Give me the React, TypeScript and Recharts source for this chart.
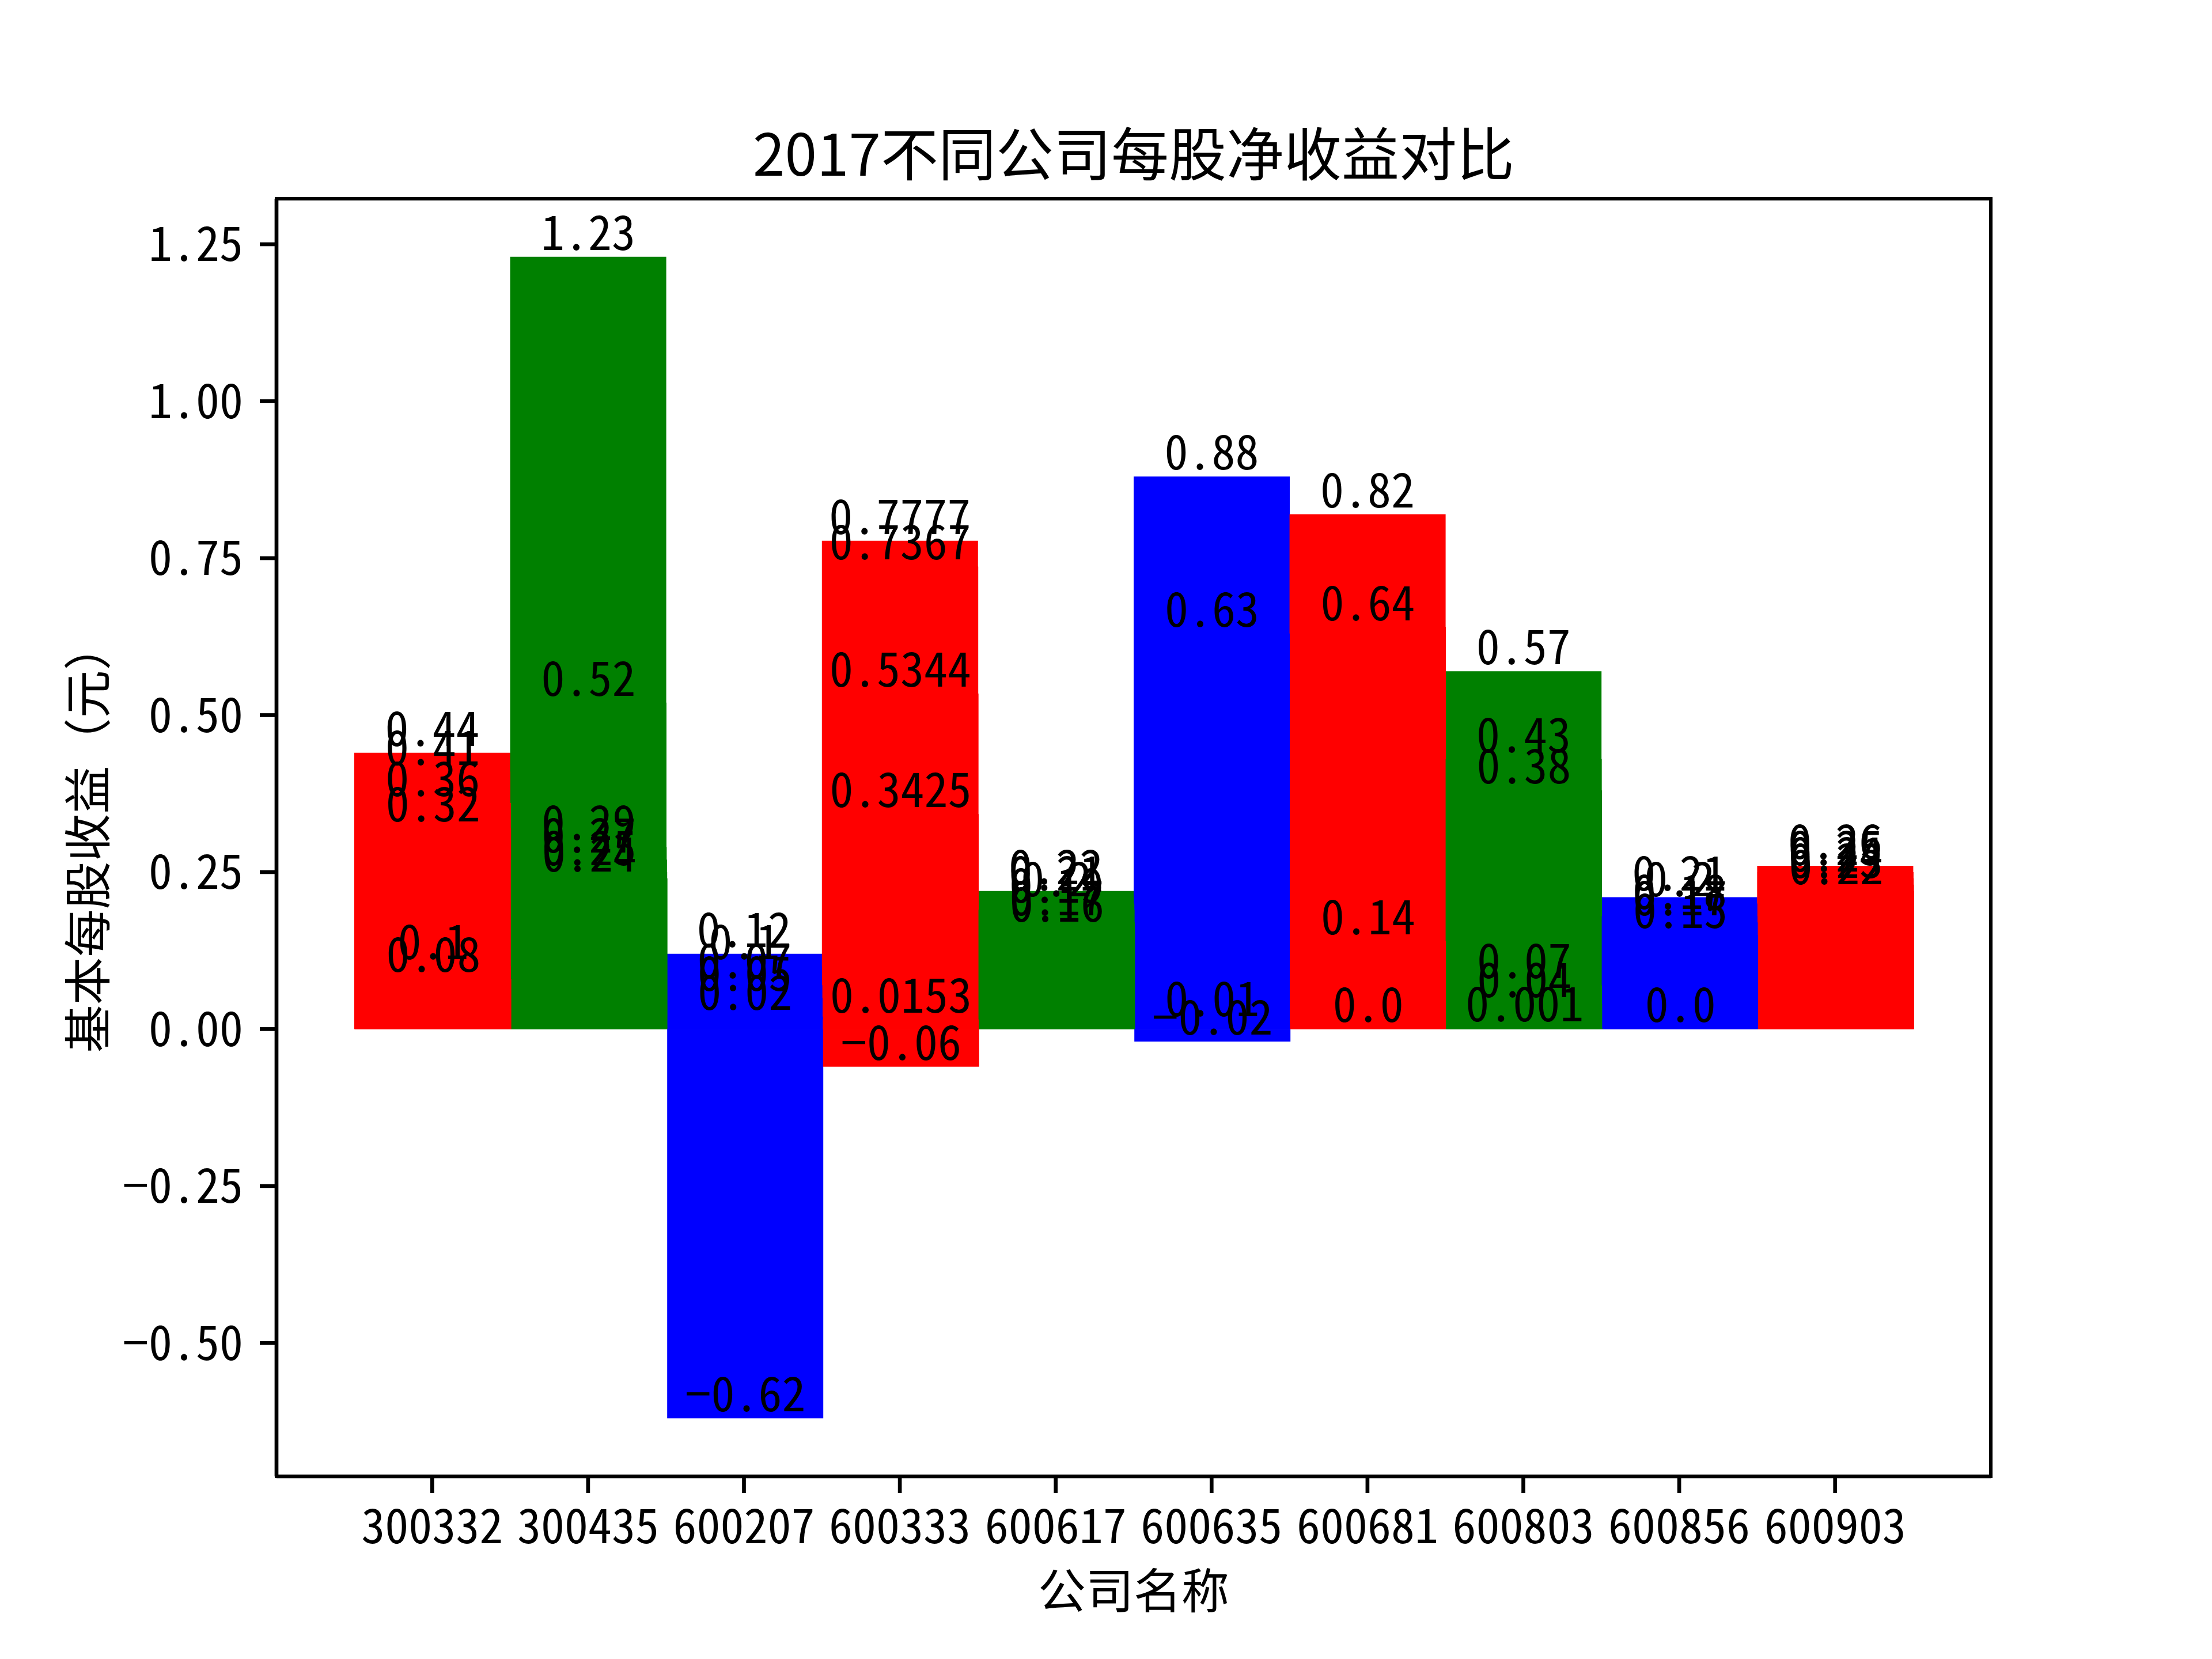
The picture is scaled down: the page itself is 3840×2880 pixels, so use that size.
import { BarChart, Bar, XAxis, YAxis, Cell, LabelList } from "recharts";

const companies = ["300332", "300435", "600207", "600333", "600617", "600635", "600681", "600803", "600856", "600903"];
const barColors = ["#ff0000", "#008000", "#0000ff", "#ff0000", "#008000", "#0000ff", "#ff0000", "#008000", "#0000ff", "#ff0000"];

// one array per reporting period
const eps1 = [0.44, 1.23, 0.12, 0.7777, 0.22, 0.88, 0.82, 0.57, 0.21, 0.26];
const eps2 = [0.41, 0.52, 0.1, 0.7367, 0.21, 0.63, 0.64, 0.43, 0.2, 0.25];
const eps3 = [0.36, 0.29, 0.07, 0.5344, 0.2, 0.01, 0.14, 0.38, 0.18, 0.24];
const eps4 = [0.32, 0.27, 0.05, 0.3425, 0.19, -0.02, 0.0, 0.07, 0.17, 0.23];
const eps5 = [0.1, 0.25, 0.02, 0.0153, 0.17, null, null, 0.04, 0.15, 0.22];
const eps6 = [0.08, 0.24, -0.62, -0.06, 0.16, null, null, 0.001, 0.0, null];

const yTicks = [-0.5, -0.25, 0, 0.25, 0.5, 0.75, 1.0, 1.25];

const series = [eps1, eps2, eps3, eps4, eps5, eps6];
const keys = series.map((_, i) => `eps${i + 1}`);

const data = companies.map((name, i) => {
  const row: Record<string, string | number | null> = { name };
  series.forEach((s, j) => {
    row[keys[j]] = s[i];
  });
  return row;
});

const numFont = "'Noto Sans Mono CJK SC', 'Noto Sans CJK SC', 'DejaVu Sans Mono', monospace";
const cjkFont = "'Noto Sans CJK SC', sans-serif";
const LW = 6.67;

// plot box (matplotlib default subplot params on a 3840x2880 canvas)
const PLOT = { left: 480, top: 345, right: 3456, bottom: 2563 };

const minus = (s: string) => s.replace("-", "\u2212");

function fmtValue(v: number) {
  if (v === 0) return "0.0";
  return minus(String(v));
}

function EpsLabel(props: any) {
  const { x, y, width, height, value } = props;
  if (value === null || value === undefined) return null;
  const top = Math.min(y, y + height);
  const bottom = Math.max(y, y + height);
  const py = value >= 0 ? top : bottom;
  return (
    <text
      x={x + width / 2}
      y={py - 12}
      textAnchor="middle"
      fontSize={82}
      fontFamily={numFont}
      fill="#000"
    >
      {fmtValue(Number(value))}
    </text>
  );
}

const textStyle = {
  position: "absolute" as const,
  lineHeight: 1,
  fontFamily: cjkFont,
  whiteSpace: "nowrap" as const,
};

export default function App() {
  return (
    <div style={{ position: "absolute", left: 0, top: 0, width: 3840, height: 2880, background: "#fff" }}>
      <div style={{ ...textStyle, left: 1968, top: 212, transform: "translateX(-50%)", fontSize: 100 }}>
        2017不同公司每股净收益对比
      </div>
      <div style={{ ...textStyle, left: 1968, top: 2715, transform: "translateX(-50%)", fontSize: 83 }}>
        公司名称
      </div>
      <div
        style={{
          ...textStyle,
          left: 147,
          top: 1454,
          transform: "translate(-50%, -50%) rotate(-90deg)",
          fontSize: 83,
        }}
      >
        基本每股收益（元）
      </div>
      <BarChart
        width={3840}
        height={2880}
        data={data}
        margin={{ top: PLOT.top, right: 3840 - PLOT.right, bottom: 117, left: 100 }}
        barCategoryGap={0}
        barGap="-100%"
      >
        <XAxis
          dataKey="name"
          height={200}
          padding={{ left: 135, right: 135 }}
          tickSize={29}
          tickMargin={29}
          tick={{ fontSize: 82, fill: "#000", fontFamily: numFont }}
          tickLine={{ stroke: "#000", strokeWidth: LW }}
          axisLine={{ stroke: "#000", strokeWidth: LW }}
          interval={0}
        />
        <YAxis
          width={380}
          domain={[-0.7125, 1.3225]}
          ticks={yTicks}
          allowDataOverflow
          tickFormatter={(v: number) => minus(v.toFixed(2))}
          tickSize={29}
          tickMargin={29}
          tick={{ fontSize: 82, fill: "#000", fontFamily: numFont }}
          tickLine={{ stroke: "#000", strokeWidth: LW }}
          axisLine={{ stroke: "#000", strokeWidth: LW }}
        />
        {keys.map((k) => (
          <Bar key={k} dataKey={k} isAnimationActive={false} minPointSize={0.01}>
            {companies.map((c, i) => (
              <Cell key={c} fill={barColors[i]} />
            ))}
            <LabelList dataKey={k} content={EpsLabel} />
          </Bar>
        ))}
      </BarChart>
      {/* frame: top and right spines */}
      <div
        style={{
          position: "absolute",
          left: PLOT.left - LW / 2,
          top: PLOT.top - LW / 2,
          width: PLOT.right - PLOT.left + LW,
          height: PLOT.bottom - PLOT.top + LW,
          border: `${LW}px solid #000`,
          boxSizing: "border-box",
          pointerEvents: "none",
        }}
      />
    </div>
  );
}
